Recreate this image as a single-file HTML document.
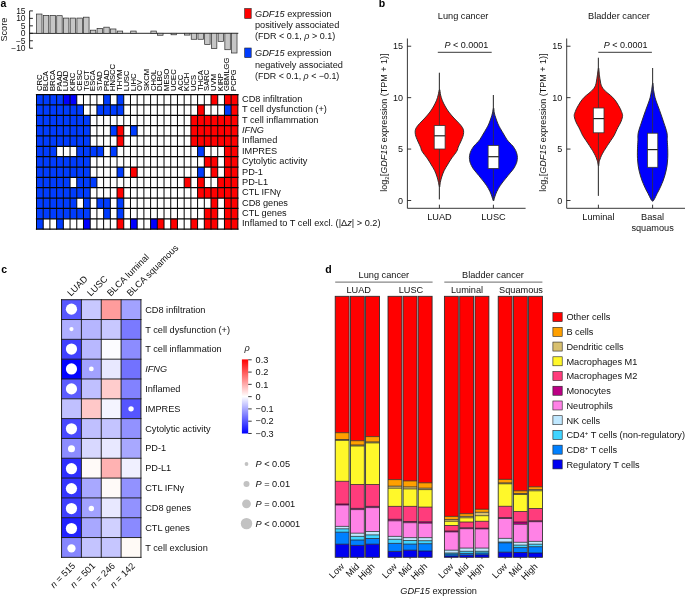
<!DOCTYPE html>
<html lang="en"><head><meta charset="utf-8"><title>GDF15 expression and immune infiltration</title>
<style>
html,body{margin:0;padding:0;background:#fff;}
body{width:685px;height:596px;overflow:hidden;font-family:"Liberation Sans", sans-serif;}
svg{display:block;font-family:"Liberation Sans", sans-serif;will-change:transform;}
</style></head>
<body>
<svg width="685" height="596" viewBox="0 0 685 596">
<rect width="685" height="596" fill="#ffffff"/>
<g id="panel-a">
<text x="0.60" y="7.20" font-size="10.5" font-weight="bold" fill="#000" >a</text>
<text x="7.00" y="29.60" font-size="9.2" text-anchor="middle" transform="rotate(-90 7.00 29.60)" fill="#111" >Score</text>
<path d="M29.6 10.90V48.23" stroke="#111" stroke-width="0.9" fill="none"/>
<path d="M29.6 10.90h3.3" stroke="#111" stroke-width="0.9"/>
<text x="25.60" y="13.90" font-size="8.5" text-anchor="end" fill="#111" >15</text>
<path d="M29.6 18.37h3.3" stroke="#111" stroke-width="0.9"/>
<text x="25.60" y="21.37" font-size="8.5" text-anchor="end" fill="#111" >10</text>
<path d="M29.6 25.83h3.3" stroke="#111" stroke-width="0.9"/>
<text x="25.60" y="28.83" font-size="8.5" text-anchor="end" fill="#111" >5</text>
<path d="M29.6 33.30h3.3" stroke="#111" stroke-width="0.9"/>
<text x="25.60" y="36.30" font-size="8.5" text-anchor="end" fill="#111" >0</text>
<path d="M29.6 40.77h3.3" stroke="#111" stroke-width="0.9"/>
<text x="25.60" y="43.77" font-size="8.5" text-anchor="end" fill="#111" >−5</text>
<path d="M29.6 48.23h3.3" stroke="#111" stroke-width="0.9"/>
<text x="25.60" y="51.23" font-size="8.5" text-anchor="end" fill="#111" >−10</text>
<path d="M29.6 33.3H238.3" stroke="#111" stroke-width="0.9"/>
<rect x="36.55" y="14.04" width="5.45" height="19.26" fill="#c6c6c6" stroke="#2a2a2a" stroke-width="0.7"/>
<rect x="43.28" y="15.38" width="5.45" height="17.92" fill="#c6c6c6" stroke="#2a2a2a" stroke-width="0.7"/>
<rect x="50.00" y="15.38" width="5.45" height="17.92" fill="#c6c6c6" stroke="#2a2a2a" stroke-width="0.7"/>
<rect x="56.73" y="15.68" width="5.45" height="17.62" fill="#c6c6c6" stroke="#2a2a2a" stroke-width="0.7"/>
<rect x="63.45" y="18.07" width="5.45" height="15.23" fill="#c6c6c6" stroke="#2a2a2a" stroke-width="0.7"/>
<rect x="70.17" y="18.07" width="5.45" height="15.23" fill="#c6c6c6" stroke="#2a2a2a" stroke-width="0.7"/>
<rect x="76.90" y="18.07" width="5.45" height="15.23" fill="#c6c6c6" stroke="#2a2a2a" stroke-width="0.7"/>
<rect x="83.62" y="17.18" width="5.45" height="16.12" fill="#c6c6c6" stroke="#2a2a2a" stroke-width="0.7"/>
<rect x="90.35" y="30.16" width="5.45" height="3.14" fill="#c6c6c6" stroke="#2a2a2a" stroke-width="0.7"/>
<rect x="97.07" y="28.37" width="5.45" height="4.93" fill="#c6c6c6" stroke="#2a2a2a" stroke-width="0.7"/>
<rect x="103.80" y="27.18" width="5.45" height="6.12" fill="#c6c6c6" stroke="#2a2a2a" stroke-width="0.7"/>
<rect x="110.52" y="28.97" width="5.45" height="4.33" fill="#c6c6c6" stroke="#2a2a2a" stroke-width="0.7"/>
<rect x="117.25" y="31.06" width="5.45" height="2.24" fill="#c6c6c6" stroke="#2a2a2a" stroke-width="0.7"/>
<rect x="130.70" y="31.06" width="5.45" height="2.24" fill="#c6c6c6" stroke="#2a2a2a" stroke-width="0.7"/>
<rect x="150.87" y="31.06" width="5.45" height="2.24" fill="#c6c6c6" stroke="#2a2a2a" stroke-width="0.7"/>
<rect x="157.60" y="33.30" width="5.45" height="1.94" fill="#c6c6c6" stroke="#2a2a2a" stroke-width="0.7"/>
<rect x="171.05" y="33.30" width="5.45" height="1.49" fill="#c6c6c6" stroke="#2a2a2a" stroke-width="0.7"/>
<rect x="184.50" y="33.30" width="5.45" height="1.79" fill="#c6c6c6" stroke="#2a2a2a" stroke-width="0.7"/>
<rect x="191.22" y="33.30" width="5.45" height="5.97" fill="#c6c6c6" stroke="#2a2a2a" stroke-width="0.7"/>
<rect x="197.95" y="33.30" width="5.45" height="5.97" fill="#c6c6c6" stroke="#2a2a2a" stroke-width="0.7"/>
<rect x="204.67" y="33.30" width="5.45" height="11.05" fill="#c6c6c6" stroke="#2a2a2a" stroke-width="0.7"/>
<rect x="211.40" y="33.30" width="5.45" height="15.23" fill="#c6c6c6" stroke="#2a2a2a" stroke-width="0.7"/>
<rect x="218.12" y="33.30" width="5.45" height="8.06" fill="#c6c6c6" stroke="#2a2a2a" stroke-width="0.7"/>
<rect x="224.85" y="33.30" width="5.45" height="16.42" fill="#c6c6c6" stroke="#2a2a2a" stroke-width="0.7"/>
<rect x="231.57" y="33.30" width="5.45" height="19.71" fill="#c6c6c6" stroke="#2a2a2a" stroke-width="0.7"/>
<text x="41.56" y="90.90" font-size="7.6" transform="rotate(-90 41.56 90.90)" fill="#000" stroke="#000" stroke-width="0.06">CRC</text>
<text x="48.27" y="90.90" font-size="7.6" transform="rotate(-90 48.27 90.90)" fill="#000" stroke="#000" stroke-width="0.06">BLCA</text>
<text x="54.98" y="90.90" font-size="7.6" transform="rotate(-90 54.98 90.90)" fill="#000" stroke="#000" stroke-width="0.06">BRCA</text>
<text x="61.69" y="90.90" font-size="7.6" transform="rotate(-90 61.69 90.90)" fill="#000" stroke="#000" stroke-width="0.06">PAAD</text>
<text x="68.40" y="90.90" font-size="7.6" transform="rotate(-90 68.40 90.90)" fill="#000" stroke="#000" stroke-width="0.06">LUAD</text>
<text x="75.12" y="90.90" font-size="7.6" transform="rotate(-90 75.12 90.90)" fill="#000" stroke="#000" stroke-width="0.06">KIRC</text>
<text x="81.83" y="90.90" font-size="7.6" transform="rotate(-90 81.83 90.90)" fill="#000" stroke="#000" stroke-width="0.06">CESC</text>
<text x="88.54" y="90.90" font-size="7.6" transform="rotate(-90 88.54 90.90)" fill="#000" stroke="#000" stroke-width="0.06">TGCT</text>
<text x="95.25" y="90.90" font-size="7.6" transform="rotate(-90 95.25 90.90)" fill="#000" stroke="#000" stroke-width="0.06">ESCA</text>
<text x="101.96" y="90.90" font-size="7.6" transform="rotate(-90 101.96 90.90)" fill="#000" stroke="#000" stroke-width="0.06">STAD</text>
<text x="108.68" y="90.90" font-size="7.6" transform="rotate(-90 108.68 90.90)" fill="#000" stroke="#000" stroke-width="0.06">PRAD</text>
<text x="115.39" y="90.90" font-size="7.6" transform="rotate(-90 115.39 90.90)" fill="#000" stroke="#000" stroke-width="0.06">HNSCC</text>
<text x="122.10" y="90.90" font-size="7.6" transform="rotate(-90 122.10 90.90)" fill="#000" stroke="#000" stroke-width="0.06">THYM</text>
<text x="128.81" y="90.90" font-size="7.6" transform="rotate(-90 128.81 90.90)" fill="#000" stroke="#000" stroke-width="0.06">LUSC</text>
<text x="135.52" y="90.90" font-size="7.6" transform="rotate(-90 135.52 90.90)" fill="#000" stroke="#000" stroke-width="0.06">LIHC</text>
<text x="142.24" y="90.90" font-size="7.6" transform="rotate(-90 142.24 90.90)" fill="#000" stroke="#000" stroke-width="0.06">OV</text>
<text x="148.95" y="90.90" font-size="7.6" transform="rotate(-90 148.95 90.90)" fill="#000" stroke="#000" stroke-width="0.06">SKCM</text>
<text x="155.66" y="90.90" font-size="7.6" transform="rotate(-90 155.66 90.90)" fill="#000" stroke="#000" stroke-width="0.06">CHOL</text>
<text x="162.37" y="90.90" font-size="7.6" transform="rotate(-90 162.37 90.90)" fill="#000" stroke="#000" stroke-width="0.06">DLBC</text>
<text x="169.08" y="90.90" font-size="7.6" transform="rotate(-90 169.08 90.90)" fill="#000" stroke="#000" stroke-width="0.06">MESO</text>
<text x="175.80" y="90.90" font-size="7.6" transform="rotate(-90 175.80 90.90)" fill="#000" stroke="#000" stroke-width="0.06">UCEC</text>
<text x="182.51" y="90.90" font-size="7.6" transform="rotate(-90 182.51 90.90)" fill="#000" stroke="#000" stroke-width="0.06">ACC</text>
<text x="189.22" y="90.90" font-size="7.6" transform="rotate(-90 189.22 90.90)" fill="#000" stroke="#000" stroke-width="0.06">KICH</text>
<text x="195.93" y="90.90" font-size="7.6" transform="rotate(-90 195.93 90.90)" fill="#000" stroke="#000" stroke-width="0.06">UCS</text>
<text x="202.64" y="90.90" font-size="7.6" transform="rotate(-90 202.64 90.90)" fill="#000" stroke="#000" stroke-width="0.06">THCA</text>
<text x="209.36" y="90.90" font-size="7.6" transform="rotate(-90 209.36 90.90)" fill="#000" stroke="#000" stroke-width="0.06">SARC</text>
<text x="216.07" y="90.90" font-size="7.6" transform="rotate(-90 216.07 90.90)" fill="#000" stroke="#000" stroke-width="0.06">UVM</text>
<text x="222.78" y="90.90" font-size="7.6" transform="rotate(-90 222.78 90.90)" fill="#000" stroke="#000" stroke-width="0.06">KIRP</text>
<text x="229.49" y="90.90" font-size="7.6" transform="rotate(-90 229.49 90.90)" fill="#000" stroke="#000" stroke-width="0.06">GBMLGG</text>
<text x="236.20" y="90.90" font-size="7.6" transform="rotate(-90 236.20 90.90)" fill="#000" stroke="#000" stroke-width="0.06">PCPG</text>
<rect x="36.5" y="94.55" width="201.36" height="134.58" fill="#fff"/>
<rect x="36.50" y="94.55" width="6.71" height="10.35" fill="#003cff"/>
<rect x="43.21" y="94.55" width="6.71" height="10.35" fill="#003cff"/>
<rect x="49.92" y="94.55" width="6.71" height="10.35" fill="#003cff"/>
<rect x="56.64" y="94.55" width="6.71" height="10.35" fill="#003cff"/>
<rect x="103.62" y="94.55" width="6.71" height="10.35" fill="#003cff"/>
<rect x="117.04" y="94.55" width="6.71" height="10.35" fill="#003cff"/>
<rect x="63.35" y="94.55" width="6.71" height="10.35" fill="#0000ff"/>
<rect x="70.06" y="94.55" width="6.71" height="10.35" fill="#0000ff"/>
<rect x="211.01" y="94.55" width="6.71" height="10.35" fill="#ff0000"/>
<rect x="224.44" y="94.55" width="6.71" height="10.35" fill="#ff0000"/>
<rect x="231.15" y="94.55" width="6.71" height="10.35" fill="#ff0000"/>
<text x="242.00" y="102.05" font-size="9.2" fill="#111" >CD8 infiltration</text>
<rect x="36.50" y="104.90" width="6.71" height="10.35" fill="#003cff"/>
<rect x="43.21" y="104.90" width="6.71" height="10.35" fill="#003cff"/>
<rect x="49.92" y="104.90" width="6.71" height="10.35" fill="#003cff"/>
<rect x="56.64" y="104.90" width="6.71" height="10.35" fill="#003cff"/>
<rect x="63.35" y="104.90" width="6.71" height="10.35" fill="#003cff"/>
<rect x="70.06" y="104.90" width="6.71" height="10.35" fill="#003cff"/>
<rect x="76.77" y="104.90" width="6.71" height="10.35" fill="#003cff"/>
<rect x="96.91" y="104.90" width="6.71" height="10.35" fill="#003cff"/>
<rect x="103.62" y="104.90" width="6.71" height="10.35" fill="#003cff"/>
<rect x="110.33" y="104.90" width="6.71" height="10.35" fill="#003cff"/>
<rect x="117.04" y="104.90" width="6.71" height="10.35" fill="#003cff"/>
<rect x="224.44" y="104.90" width="6.71" height="10.35" fill="#003cff"/>
<rect x="197.59" y="104.90" width="6.71" height="10.35" fill="#ff0000"/>
<rect x="231.15" y="104.90" width="6.71" height="10.35" fill="#ff0000"/>
<text x="242.00" y="112.40" font-size="9.2" fill="#111" >T cell dysfunction (+)</text>
<rect x="36.50" y="115.25" width="6.71" height="10.35" fill="#003cff"/>
<rect x="43.21" y="115.25" width="6.71" height="10.35" fill="#003cff"/>
<rect x="49.92" y="115.25" width="6.71" height="10.35" fill="#003cff"/>
<rect x="56.64" y="115.25" width="6.71" height="10.35" fill="#003cff"/>
<rect x="63.35" y="115.25" width="6.71" height="10.35" fill="#003cff"/>
<rect x="70.06" y="115.25" width="6.71" height="10.35" fill="#003cff"/>
<rect x="76.77" y="115.25" width="6.71" height="10.35" fill="#003cff"/>
<rect x="83.48" y="115.25" width="6.71" height="10.35" fill="#003cff"/>
<rect x="190.88" y="115.25" width="6.71" height="10.35" fill="#ff0000"/>
<rect x="197.59" y="115.25" width="6.71" height="10.35" fill="#ff0000"/>
<rect x="204.30" y="115.25" width="6.71" height="10.35" fill="#ff0000"/>
<rect x="211.01" y="115.25" width="6.71" height="10.35" fill="#ff0000"/>
<rect x="217.72" y="115.25" width="6.71" height="10.35" fill="#ff0000"/>
<rect x="224.44" y="115.25" width="6.71" height="10.35" fill="#ff0000"/>
<rect x="231.15" y="115.25" width="6.71" height="10.35" fill="#ff0000"/>
<text x="242.00" y="122.75" font-size="9.2" fill="#111" >T cell inflammation</text>
<rect x="36.50" y="125.61" width="6.71" height="10.35" fill="#003cff"/>
<rect x="43.21" y="125.61" width="6.71" height="10.35" fill="#003cff"/>
<rect x="49.92" y="125.61" width="6.71" height="10.35" fill="#003cff"/>
<rect x="56.64" y="125.61" width="6.71" height="10.35" fill="#003cff"/>
<rect x="63.35" y="125.61" width="6.71" height="10.35" fill="#003cff"/>
<rect x="70.06" y="125.61" width="6.71" height="10.35" fill="#003cff"/>
<rect x="76.77" y="125.61" width="6.71" height="10.35" fill="#003cff"/>
<rect x="83.48" y="125.61" width="6.71" height="10.35" fill="#003cff"/>
<rect x="110.33" y="125.61" width="6.71" height="10.35" fill="#003cff"/>
<rect x="130.47" y="125.61" width="6.71" height="10.35" fill="#003cff"/>
<rect x="117.04" y="125.61" width="6.71" height="10.35" fill="#ff0000"/>
<rect x="190.88" y="125.61" width="6.71" height="10.35" fill="#ff0000"/>
<rect x="197.59" y="125.61" width="6.71" height="10.35" fill="#ff0000"/>
<rect x="204.30" y="125.61" width="6.71" height="10.35" fill="#ff0000"/>
<rect x="211.01" y="125.61" width="6.71" height="10.35" fill="#ff0000"/>
<rect x="217.72" y="125.61" width="6.71" height="10.35" fill="#ff0000"/>
<rect x="224.44" y="125.61" width="6.71" height="10.35" fill="#ff0000"/>
<rect x="231.15" y="125.61" width="6.71" height="10.35" fill="#ff0000"/>
<text x="242.00" y="133.11" font-size="9.2" font-style="italic" fill="#111" >IFNG</text>
<rect x="36.50" y="135.96" width="6.71" height="10.35" fill="#003cff"/>
<rect x="43.21" y="135.96" width="6.71" height="10.35" fill="#003cff"/>
<rect x="49.92" y="135.96" width="6.71" height="10.35" fill="#003cff"/>
<rect x="56.64" y="135.96" width="6.71" height="10.35" fill="#003cff"/>
<rect x="63.35" y="135.96" width="6.71" height="10.35" fill="#003cff"/>
<rect x="70.06" y="135.96" width="6.71" height="10.35" fill="#003cff"/>
<rect x="76.77" y="135.96" width="6.71" height="10.35" fill="#003cff"/>
<rect x="83.48" y="135.96" width="6.71" height="10.35" fill="#003cff"/>
<rect x="117.04" y="135.96" width="6.71" height="10.35" fill="#ff0000"/>
<rect x="190.88" y="135.96" width="6.71" height="10.35" fill="#ff0000"/>
<rect x="197.59" y="135.96" width="6.71" height="10.35" fill="#ff0000"/>
<rect x="204.30" y="135.96" width="6.71" height="10.35" fill="#ff0000"/>
<rect x="211.01" y="135.96" width="6.71" height="10.35" fill="#ff0000"/>
<rect x="217.72" y="135.96" width="6.71" height="10.35" fill="#ff0000"/>
<rect x="224.44" y="135.96" width="6.71" height="10.35" fill="#ff0000"/>
<rect x="231.15" y="135.96" width="6.71" height="10.35" fill="#ff0000"/>
<text x="242.00" y="143.46" font-size="9.2" fill="#111" >Inflamed</text>
<rect x="36.50" y="146.31" width="6.71" height="10.35" fill="#003cff"/>
<rect x="43.21" y="146.31" width="6.71" height="10.35" fill="#003cff"/>
<rect x="49.92" y="146.31" width="6.71" height="10.35" fill="#003cff"/>
<rect x="76.77" y="146.31" width="6.71" height="10.35" fill="#003cff"/>
<rect x="83.48" y="146.31" width="6.71" height="10.35" fill="#003cff"/>
<rect x="90.20" y="146.31" width="6.71" height="10.35" fill="#003cff"/>
<rect x="96.91" y="146.31" width="6.71" height="10.35" fill="#003cff"/>
<rect x="110.33" y="146.31" width="6.71" height="10.35" fill="#003cff"/>
<rect x="197.59" y="146.31" width="6.71" height="10.35" fill="#003cff"/>
<rect x="224.44" y="146.31" width="6.71" height="10.35" fill="#ff0000"/>
<rect x="231.15" y="146.31" width="6.71" height="10.35" fill="#ff0000"/>
<text x="242.00" y="153.81" font-size="9.2" fill="#111" >IMPRES</text>
<rect x="36.50" y="156.66" width="6.71" height="10.35" fill="#003cff"/>
<rect x="43.21" y="156.66" width="6.71" height="10.35" fill="#003cff"/>
<rect x="49.92" y="156.66" width="6.71" height="10.35" fill="#003cff"/>
<rect x="56.64" y="156.66" width="6.71" height="10.35" fill="#003cff"/>
<rect x="63.35" y="156.66" width="6.71" height="10.35" fill="#003cff"/>
<rect x="70.06" y="156.66" width="6.71" height="10.35" fill="#003cff"/>
<rect x="76.77" y="156.66" width="6.71" height="10.35" fill="#003cff"/>
<rect x="83.48" y="156.66" width="6.71" height="10.35" fill="#003cff"/>
<rect x="204.30" y="156.66" width="6.71" height="10.35" fill="#ff0000"/>
<rect x="211.01" y="156.66" width="6.71" height="10.35" fill="#ff0000"/>
<rect x="224.44" y="156.66" width="6.71" height="10.35" fill="#ff0000"/>
<rect x="231.15" y="156.66" width="6.71" height="10.35" fill="#ff0000"/>
<text x="242.00" y="164.16" font-size="9.2" fill="#111" >Cytolytic activity</text>
<rect x="36.50" y="167.01" width="6.71" height="10.35" fill="#003cff"/>
<rect x="43.21" y="167.01" width="6.71" height="10.35" fill="#003cff"/>
<rect x="49.92" y="167.01" width="6.71" height="10.35" fill="#003cff"/>
<rect x="56.64" y="167.01" width="6.71" height="10.35" fill="#003cff"/>
<rect x="63.35" y="167.01" width="6.71" height="10.35" fill="#003cff"/>
<rect x="70.06" y="167.01" width="6.71" height="10.35" fill="#003cff"/>
<rect x="76.77" y="167.01" width="6.71" height="10.35" fill="#003cff"/>
<rect x="83.48" y="167.01" width="6.71" height="10.35" fill="#003cff"/>
<rect x="117.04" y="167.01" width="6.71" height="10.35" fill="#003cff"/>
<rect x="197.59" y="167.01" width="6.71" height="10.35" fill="#003cff"/>
<rect x="130.47" y="167.01" width="6.71" height="10.35" fill="#ff0000"/>
<rect x="211.01" y="167.01" width="6.71" height="10.35" fill="#ff0000"/>
<rect x="224.44" y="167.01" width="6.71" height="10.35" fill="#ff0000"/>
<rect x="231.15" y="167.01" width="6.71" height="10.35" fill="#ff0000"/>
<text x="242.00" y="174.51" font-size="9.2" fill="#111" >PD-1</text>
<rect x="36.50" y="177.37" width="6.71" height="10.35" fill="#003cff"/>
<rect x="43.21" y="177.37" width="6.71" height="10.35" fill="#003cff"/>
<rect x="49.92" y="177.37" width="6.71" height="10.35" fill="#003cff"/>
<rect x="56.64" y="177.37" width="6.71" height="10.35" fill="#003cff"/>
<rect x="63.35" y="177.37" width="6.71" height="10.35" fill="#003cff"/>
<rect x="76.77" y="177.37" width="6.71" height="10.35" fill="#003cff"/>
<rect x="83.48" y="177.37" width="6.71" height="10.35" fill="#003cff"/>
<rect x="90.20" y="177.37" width="6.71" height="10.35" fill="#003cff"/>
<rect x="184.16" y="177.37" width="6.71" height="10.35" fill="#ff0000"/>
<rect x="197.59" y="177.37" width="6.71" height="10.35" fill="#ff0000"/>
<rect x="217.72" y="177.37" width="6.71" height="10.35" fill="#ff0000"/>
<rect x="224.44" y="177.37" width="6.71" height="10.35" fill="#ff0000"/>
<rect x="231.15" y="177.37" width="6.71" height="10.35" fill="#ff0000"/>
<text x="242.00" y="184.87" font-size="9.2" fill="#111" >PD-L1</text>
<rect x="36.50" y="187.72" width="6.71" height="10.35" fill="#003cff"/>
<rect x="43.21" y="187.72" width="6.71" height="10.35" fill="#003cff"/>
<rect x="49.92" y="187.72" width="6.71" height="10.35" fill="#003cff"/>
<rect x="56.64" y="187.72" width="6.71" height="10.35" fill="#003cff"/>
<rect x="63.35" y="187.72" width="6.71" height="10.35" fill="#003cff"/>
<rect x="70.06" y="187.72" width="6.71" height="10.35" fill="#003cff"/>
<rect x="76.77" y="187.72" width="6.71" height="10.35" fill="#003cff"/>
<rect x="83.48" y="187.72" width="6.71" height="10.35" fill="#003cff"/>
<rect x="117.04" y="187.72" width="6.71" height="10.35" fill="#ff0000"/>
<rect x="197.59" y="187.72" width="6.71" height="10.35" fill="#ff0000"/>
<rect x="204.30" y="187.72" width="6.71" height="10.35" fill="#ff0000"/>
<rect x="211.01" y="187.72" width="6.71" height="10.35" fill="#ff0000"/>
<rect x="217.72" y="187.72" width="6.71" height="10.35" fill="#ff0000"/>
<rect x="224.44" y="187.72" width="6.71" height="10.35" fill="#ff0000"/>
<rect x="231.15" y="187.72" width="6.71" height="10.35" fill="#ff0000"/>
<text x="242.00" y="195.22" font-size="9.2" fill="#111" >CTL IFNγ</text>
<rect x="36.50" y="198.07" width="6.71" height="10.35" fill="#003cff"/>
<rect x="43.21" y="198.07" width="6.71" height="10.35" fill="#003cff"/>
<rect x="49.92" y="198.07" width="6.71" height="10.35" fill="#003cff"/>
<rect x="56.64" y="198.07" width="6.71" height="10.35" fill="#003cff"/>
<rect x="63.35" y="198.07" width="6.71" height="10.35" fill="#003cff"/>
<rect x="70.06" y="198.07" width="6.71" height="10.35" fill="#003cff"/>
<rect x="83.48" y="198.07" width="6.71" height="10.35" fill="#003cff"/>
<rect x="96.91" y="198.07" width="6.71" height="10.35" fill="#003cff"/>
<rect x="103.62" y="198.07" width="6.71" height="10.35" fill="#003cff"/>
<rect x="117.04" y="198.07" width="6.71" height="10.35" fill="#003cff"/>
<rect x="211.01" y="198.07" width="6.71" height="10.35" fill="#ff0000"/>
<rect x="224.44" y="198.07" width="6.71" height="10.35" fill="#ff0000"/>
<rect x="231.15" y="198.07" width="6.71" height="10.35" fill="#ff0000"/>
<text x="242.00" y="205.57" font-size="9.2" fill="#111" >CD8 genes</text>
<rect x="36.50" y="208.42" width="6.71" height="10.35" fill="#003cff"/>
<rect x="43.21" y="208.42" width="6.71" height="10.35" fill="#003cff"/>
<rect x="49.92" y="208.42" width="6.71" height="10.35" fill="#003cff"/>
<rect x="56.64" y="208.42" width="6.71" height="10.35" fill="#003cff"/>
<rect x="63.35" y="208.42" width="6.71" height="10.35" fill="#003cff"/>
<rect x="70.06" y="208.42" width="6.71" height="10.35" fill="#003cff"/>
<rect x="76.77" y="208.42" width="6.71" height="10.35" fill="#003cff"/>
<rect x="83.48" y="208.42" width="6.71" height="10.35" fill="#003cff"/>
<rect x="103.62" y="208.42" width="6.71" height="10.35" fill="#003cff"/>
<rect x="117.04" y="208.42" width="6.71" height="10.35" fill="#003cff"/>
<rect x="204.30" y="208.42" width="6.71" height="10.35" fill="#ff0000"/>
<rect x="211.01" y="208.42" width="6.71" height="10.35" fill="#ff0000"/>
<rect x="224.44" y="208.42" width="6.71" height="10.35" fill="#ff0000"/>
<rect x="231.15" y="208.42" width="6.71" height="10.35" fill="#ff0000"/>
<text x="242.00" y="215.92" font-size="9.2" fill="#111" >CTL genes</text>
<rect x="36.50" y="218.77" width="6.71" height="10.35" fill="#003cff"/>
<rect x="56.64" y="218.77" width="6.71" height="10.35" fill="#003cff"/>
<rect x="83.48" y="218.77" width="6.71" height="10.35" fill="#0000ff"/>
<rect x="117.04" y="218.77" width="6.71" height="10.35" fill="#ff0000"/>
<rect x="130.47" y="218.77" width="6.71" height="10.35" fill="#0000ff"/>
<rect x="150.60" y="218.77" width="6.71" height="10.35" fill="#0000ff"/>
<rect x="157.32" y="218.77" width="6.71" height="10.35" fill="#ff0000"/>
<rect x="170.74" y="218.77" width="6.71" height="10.35" fill="#ff0000"/>
<rect x="190.88" y="218.77" width="6.71" height="10.35" fill="#ff0000"/>
<rect x="204.30" y="218.77" width="6.71" height="10.35" fill="#ff0000"/>
<rect x="211.01" y="218.77" width="6.71" height="10.35" fill="#ff0000"/>
<rect x="224.44" y="218.77" width="6.71" height="10.35" fill="#ff0000"/>
<rect x="231.15" y="218.77" width="6.71" height="10.35" fill="#ff0000"/>
<text x="242.00" y="226.27" font-size="9.2" fill="#111" >Inflamed to T cell excl. (|Δ<tspan font-style="italic">z</tspan>| &gt; 0.2)</text>
<path d="M36.50 94.55v134.58M43.21 94.55v134.58M49.92 94.55v134.58M56.64 94.55v134.58M63.35 94.55v134.58M70.06 94.55v134.58M76.77 94.55v134.58M83.48 94.55v134.58M90.20 94.55v134.58M96.91 94.55v134.58M103.62 94.55v134.58M110.33 94.55v134.58M117.04 94.55v134.58M123.76 94.55v134.58M130.47 94.55v134.58M137.18 94.55v134.58M143.89 94.55v134.58M150.60 94.55v134.58M157.32 94.55v134.58M164.03 94.55v134.58M170.74 94.55v134.58M177.45 94.55v134.58M184.16 94.55v134.58M190.88 94.55v134.58M197.59 94.55v134.58M204.30 94.55v134.58M211.01 94.55v134.58M217.72 94.55v134.58M224.44 94.55v134.58M231.15 94.55v134.58M237.86 94.55v134.58" stroke="#050505" stroke-width="1.0" fill="none" stroke-linecap="square"/>
<path d="M36.5 94.55h201.36M36.5 104.90h201.36M36.5 115.25h201.36M36.5 125.61h201.36M36.5 135.96h201.36M36.5 146.31h201.36M36.5 156.66h201.36M36.5 167.01h201.36M36.5 177.37h201.36M36.5 187.72h201.36M36.5 198.07h201.36M36.5 208.42h201.36M36.5 218.77h201.36M36.5 229.13h201.36" stroke="#050505" stroke-width="1.25" fill="none" stroke-linecap="square"/>
<rect x="244.7" y="8.5" width="6.5" height="10" fill="#ff0000" stroke="#222" stroke-width="0.6"/>
<rect x="244.7" y="48" width="6.5" height="9.6" fill="#003cff" stroke="#222" stroke-width="0.6"/>
<text x="255.00" y="16.70" font-size="9.2" fill="#111" ><tspan font-style="italic">GDF15</tspan> expression</text>
<text x="255.00" y="27.80" font-size="9.2" fill="#111" >positively associated</text>
<text x="255.00" y="38.90" font-size="9.0" fill="#111" >(FDR &lt; 0.1, <tspan font-style="italic">ρ</tspan> &gt; 0.1)</text>
<text x="255.00" y="56.40" font-size="9.2" fill="#111" ><tspan font-style="italic">GDF15</tspan> expression</text>
<text x="255.00" y="67.50" font-size="9.2" fill="#111" >negatively associated</text>
<text x="255.00" y="78.60" font-size="8.9" fill="#111" >(FDR &lt; 0.1, <tspan font-style="italic">ρ</tspan> &lt; −0.1)</text>
</g>
<g id="panel-b">
<text x="378.80" y="7.20" font-size="10.5" font-weight="bold" fill="#000" >b</text>
<path d="M407.4 38.5V208.3H525.6" stroke="#222" stroke-width="0.9" fill="none"/>
<path d="M407.4 200.50h3.8" stroke="#222" stroke-width="0.9"/>
<text x="403.00" y="203.50" font-size="9.0" text-anchor="end" fill="#111" >0</text>
<path d="M407.4 149.07h3.8" stroke="#222" stroke-width="0.9"/>
<text x="403.00" y="152.07" font-size="9.0" text-anchor="end" fill="#111" >5</text>
<path d="M407.4 97.65h3.8" stroke="#222" stroke-width="0.9"/>
<text x="403.00" y="100.65" font-size="9.0" text-anchor="end" fill="#111" >10</text>
<path d="M407.4 46.22h3.8" stroke="#222" stroke-width="0.9"/>
<text x="403.00" y="49.22" font-size="9.0" text-anchor="end" fill="#111" >15</text>
<text x="387.40" y="122.60" font-size="9.0" text-anchor="middle" transform="rotate(-90 387.40 122.60)" fill="#111" >log<tspan font-size="6" dy="1.6">2</tspan><tspan dy="-1.6">[</tspan><tspan font-style="italic">GDF15</tspan> expression (TPM + 1)]</text>
<text x="463.10" y="19.20" font-size="9.2" text-anchor="middle" fill="#111" >Lung cancer</text>
<text x="466.40" y="47.90" font-size="9.0" text-anchor="middle" fill="#111" ><tspan font-style="italic">P</tspan> &lt; 0.0001</text>
<path d="M437.8 52.3H491.7" stroke="#222" stroke-width="0.9"/>
<path d="M439.4 72.8V199.3" stroke="#333" stroke-width="0.8"/>
<path d="M439.60 89.50C440.00 89.50 440.17 93.22 440.60 95.00C441.03 96.78 441.47 98.37 442.20 100.20C442.93 102.03 443.90 104.03 445.00 106.00C446.10 107.97 447.32 110.00 448.80 112.00C450.28 114.00 452.13 116.05 453.90 118.00C455.67 119.95 457.98 122.12 459.40 123.70C460.82 125.28 461.70 126.32 462.40 127.50C463.10 128.68 463.43 129.63 463.60 130.80C463.77 131.97 463.60 133.33 463.40 134.50C463.20 135.67 462.87 136.55 462.40 137.80C461.93 139.05 461.30 140.43 460.60 142.00C459.90 143.57 458.73 145.87 458.20 147.20C457.67 148.53 457.83 149.03 457.40 150.00C456.97 150.97 456.65 151.50 455.60 153.00C454.55 154.50 452.47 157.00 451.10 159.00C449.73 161.00 448.57 163.05 447.40 165.00C446.23 166.95 445.05 168.70 444.10 170.70C443.15 172.70 442.33 175.03 441.70 177.00C441.07 178.97 440.65 180.83 440.30 182.50C439.95 184.17 439.90 187.00 439.60 187.00C439.30 187.00 438.92 184.17 438.50 182.50C438.08 180.83 437.73 178.97 437.10 177.00C436.47 175.03 435.65 172.70 434.70 170.70C433.75 168.70 432.57 166.95 431.40 165.00C430.23 163.05 429.07 161.00 427.70 159.00C426.33 157.00 424.25 154.50 423.20 153.00C422.15 151.50 421.83 150.97 421.40 150.00C420.97 149.03 421.13 148.53 420.60 147.20C420.07 145.87 418.90 143.57 418.20 142.00C417.50 140.43 416.87 139.05 416.40 137.80C415.93 136.55 415.60 135.67 415.40 134.50C415.20 133.33 415.03 131.97 415.20 130.80C415.37 129.63 415.70 128.68 416.40 127.50C417.10 126.32 417.98 125.28 419.40 123.70C420.82 122.12 423.13 119.95 424.90 118.00C426.67 116.05 428.52 114.00 430.00 112.00C431.48 110.00 432.70 107.97 433.80 106.00C434.90 104.03 435.87 102.03 436.60 100.20C437.33 98.37 437.70 96.78 438.20 95.00C438.70 93.22 439.20 89.50 439.60 89.50Z" fill="#ff0000" stroke="#2a2a2a" stroke-width="0.95" stroke-linejoin="round"/>
<path d="M439.4 72.8V199.3" stroke="#333" stroke-width="0.8"/>
<rect x="434.2" y="125.6" width="10.90" height="23.40" fill="#fff" stroke="#333" stroke-width="0.8"/>
<path d="M434.2 135.8H445.1" stroke="#222" stroke-width="1.2"/>
<path d="M439.4 199.3V208" stroke="none"/>
<path d="M493.4 95.0V200.8" stroke="#333" stroke-width="0.8"/>
<path d="M493.60 108.00C493.90 108.00 493.93 111.33 494.30 113.00C494.67 114.67 495.18 116.17 495.80 118.00C496.42 119.83 497.23 122.23 498.00 124.00C498.77 125.77 499.47 126.93 500.40 128.60C501.33 130.27 502.52 132.18 503.60 134.00C504.68 135.82 505.85 138.00 506.90 139.50C507.95 141.00 508.92 141.92 509.90 143.00C510.88 144.08 511.85 144.77 512.80 146.00C513.75 147.23 514.92 149.07 515.60 150.40C516.28 151.73 516.60 152.82 516.90 154.00C517.20 155.18 517.38 156.33 517.40 157.50C517.42 158.67 517.18 160.00 517.00 161.00C516.82 162.00 516.78 162.35 516.30 163.50C515.82 164.65 515.02 166.45 514.10 167.90C513.18 169.35 511.82 170.93 510.80 172.20C509.78 173.47 508.90 174.40 508.00 175.50C507.10 176.60 506.27 177.72 505.40 178.80C504.53 179.88 503.63 180.92 502.80 182.00C501.97 183.08 501.13 184.22 500.40 185.30C499.67 186.38 499.02 187.42 498.40 188.50C497.78 189.58 497.20 190.72 496.70 191.80C496.20 192.88 495.80 193.90 495.40 195.00C495.00 196.10 494.60 197.43 494.30 198.40C494.00 199.37 493.90 200.80 493.60 200.80C493.30 200.80 492.87 199.37 492.50 198.40C492.13 197.43 491.80 196.10 491.40 195.00C491.00 193.90 490.60 192.88 490.10 191.80C489.60 190.72 489.02 189.58 488.40 188.50C487.78 187.42 487.13 186.38 486.40 185.30C485.67 184.22 484.83 183.08 484.00 182.00C483.17 180.92 482.27 179.88 481.40 178.80C480.53 177.72 479.70 176.60 478.80 175.50C477.90 174.40 477.02 173.47 476.00 172.20C474.98 170.93 473.62 169.35 472.70 167.90C471.78 166.45 470.98 164.65 470.50 163.50C470.02 162.35 469.98 162.00 469.80 161.00C469.62 160.00 469.38 158.67 469.40 157.50C469.42 156.33 469.60 155.18 469.90 154.00C470.20 152.82 470.52 151.73 471.20 150.40C471.88 149.07 473.05 147.23 474.00 146.00C474.95 144.77 475.92 144.08 476.90 143.00C477.88 141.92 478.85 141.00 479.90 139.50C480.95 138.00 482.12 135.82 483.20 134.00C484.28 132.18 485.47 130.27 486.40 128.60C487.33 126.93 488.03 125.77 488.80 124.00C489.57 122.23 490.38 119.83 491.00 118.00C491.62 116.17 492.07 114.67 492.50 113.00C492.93 111.33 493.30 108.00 493.60 108.00Z" fill="#0000ff" stroke="#2a2a2a" stroke-width="0.95" stroke-linejoin="round"/>
<path d="M493.4 95.0V200.8" stroke="#333" stroke-width="0.8"/>
<rect x="488.1" y="145.5" width="10.70" height="22.90" fill="#fff" stroke="#333" stroke-width="0.8"/>
<path d="M488.1 156.7H498.8" stroke="#222" stroke-width="1.2"/>
<path d="M439.4 208.3v-3.6" stroke="#222" stroke-width="0.9"/>
<text x="439.40" y="220.20" font-size="9.2" text-anchor="middle" fill="#111" >LUAD</text>
<path d="M493.4 208.3v-3.6" stroke="#222" stroke-width="0.9"/>
<text x="493.40" y="220.20" font-size="9.2" text-anchor="middle" fill="#111" >LUSC</text>
<path d="M566.7 38.5V208.3H685" stroke="#222" stroke-width="0.9" fill="none"/>
<path d="M566.7 200.50h3.8" stroke="#222" stroke-width="0.9"/>
<text x="562.30" y="203.50" font-size="9.0" text-anchor="end" fill="#111" >0</text>
<path d="M566.7 149.07h3.8" stroke="#222" stroke-width="0.9"/>
<text x="562.30" y="152.07" font-size="9.0" text-anchor="end" fill="#111" >5</text>
<path d="M566.7 97.65h3.8" stroke="#222" stroke-width="0.9"/>
<text x="562.30" y="100.65" font-size="9.0" text-anchor="end" fill="#111" >10</text>
<path d="M566.7 46.22h3.8" stroke="#222" stroke-width="0.9"/>
<text x="562.30" y="49.22" font-size="9.0" text-anchor="end" fill="#111" >15</text>
<text x="546.50" y="122.60" font-size="9.0" text-anchor="middle" transform="rotate(-90 546.50 122.60)" fill="#111" >log<tspan font-size="6" dy="1.6">2</tspan><tspan dy="-1.6">[</tspan><tspan font-style="italic">GDF15</tspan> expression (TPM + 1)]</text>
<text x="619.00" y="18.80" font-size="9.2" text-anchor="middle" fill="#111" >Bladder cancer</text>
<text x="625.60" y="48.10" font-size="9.0" text-anchor="middle" fill="#111" ><tspan font-style="italic">P</tspan> &lt; 0.0001</text>
<path d="M598.3 52.3H651.9" stroke="#222" stroke-width="0.9"/>
<path d="M598.4 57.8V195.8" stroke="#333" stroke-width="0.8"/>
<path d="M598.60 68.00C598.93 68.00 599.12 72.93 599.40 75.10C599.68 77.27 600.00 79.32 600.30 81.00C600.60 82.68 600.75 83.95 601.20 85.20C601.65 86.45 602.30 87.50 603.00 88.50C603.70 89.50 604.58 90.40 605.40 91.20C606.22 92.00 607.07 92.62 607.90 93.30C608.73 93.98 609.62 94.63 610.40 95.30C611.18 95.97 611.93 96.63 612.60 97.30C613.27 97.97 613.77 98.52 614.40 99.30C615.03 100.08 615.73 101.00 616.40 102.00C617.07 103.00 617.77 104.22 618.40 105.30C619.03 106.38 619.70 107.48 620.20 108.50C620.70 109.52 621.07 110.57 621.40 111.40C621.73 112.23 622.00 112.83 622.20 113.50C622.40 114.17 622.60 114.65 622.60 115.40C622.60 116.15 622.45 117.00 622.20 118.00C621.95 119.00 621.53 120.32 621.10 121.40C620.67 122.48 620.13 123.48 619.60 124.50C619.07 125.52 618.50 126.33 617.90 127.50C617.30 128.67 616.63 130.17 616.00 131.50C615.37 132.83 614.97 134.00 614.10 135.50C613.23 137.00 611.92 138.82 610.80 140.50C609.68 142.18 608.50 143.92 607.40 145.60C606.30 147.28 605.20 148.92 604.20 150.60C603.20 152.28 602.08 154.30 601.40 155.70C600.72 157.10 600.47 158.00 600.10 159.00C599.73 160.00 599.45 160.53 599.20 161.70C598.95 162.87 598.87 166.00 598.60 166.00C598.33 166.00 597.92 162.87 597.60 161.70C597.28 160.53 597.07 160.00 596.70 159.00C596.33 158.00 596.08 157.10 595.40 155.70C594.72 154.30 593.60 152.28 592.60 150.60C591.60 148.92 590.50 147.28 589.40 145.60C588.30 143.92 587.12 142.18 586.00 140.50C584.88 138.82 583.57 137.00 582.70 135.50C581.83 134.00 581.43 132.83 580.80 131.50C580.17 130.17 579.50 128.67 578.90 127.50C578.30 126.33 577.73 125.52 577.20 124.50C576.67 123.48 576.13 122.48 575.70 121.40C575.27 120.32 574.85 119.00 574.60 118.00C574.35 117.00 574.20 116.15 574.20 115.40C574.20 114.65 574.40 114.17 574.60 113.50C574.80 112.83 575.07 112.23 575.40 111.40C575.73 110.57 576.10 109.52 576.60 108.50C577.10 107.48 577.77 106.38 578.40 105.30C579.03 104.22 579.73 103.00 580.40 102.00C581.07 101.00 581.77 100.08 582.40 99.30C583.03 98.52 583.53 97.97 584.20 97.30C584.87 96.63 585.62 95.97 586.40 95.30C587.18 94.63 588.07 93.98 588.90 93.30C589.73 92.62 590.58 92.00 591.40 91.20C592.22 90.40 593.10 89.50 593.80 88.50C594.50 87.50 595.15 86.45 595.60 85.20C596.05 83.95 596.20 82.68 596.50 81.00C596.80 79.32 597.05 77.27 597.40 75.10C597.75 72.93 598.27 68.00 598.60 68.00Z" fill="#ff0000" stroke="#2a2a2a" stroke-width="0.95" stroke-linejoin="round"/>
<path d="M598.4 57.8V195.8" stroke="#333" stroke-width="0.8"/>
<rect x="593.3" y="108.0" width="10.70" height="24.80" fill="#fff" stroke="#333" stroke-width="0.8"/>
<path d="M593.3 118.6H604.0" stroke="#222" stroke-width="1.2"/>
<path d="M652.6 68.0V201.0" stroke="#333" stroke-width="0.8"/>
<path d="M652.80 83.00C653.13 83.00 653.22 87.83 653.60 90.30C653.98 92.77 654.50 95.52 655.10 97.80C655.70 100.08 656.45 101.90 657.20 104.00C657.95 106.10 658.82 108.23 659.60 110.40C660.38 112.57 661.18 114.90 661.90 117.00C662.62 119.10 663.28 121.17 663.90 123.00C664.52 124.83 665.08 126.32 665.60 128.00C666.12 129.68 666.72 131.60 667.00 133.10C667.28 134.60 667.25 135.73 667.30 137.00C667.35 138.27 667.23 138.83 667.30 140.70C667.37 142.57 667.62 145.68 667.70 148.20C667.78 150.72 667.83 153.67 667.80 155.80C667.77 157.93 667.63 159.32 667.50 161.00C667.37 162.68 667.25 164.23 667.00 165.90C666.75 167.57 666.38 169.32 666.00 171.00C665.62 172.68 665.20 174.33 664.70 176.00C664.20 177.67 663.63 179.33 663.00 181.00C662.37 182.67 661.57 184.50 660.90 186.00C660.23 187.50 659.63 188.73 659.00 190.00C658.37 191.27 657.65 192.52 657.10 193.60C656.55 194.68 656.12 195.65 655.70 196.50C655.28 197.35 654.95 198.05 654.60 198.70C654.25 199.35 653.90 199.98 653.60 200.40C653.30 200.82 653.13 201.20 652.80 201.20C652.47 201.20 651.97 200.82 651.60 200.40C651.23 199.98 650.95 199.35 650.60 198.70C650.25 198.05 649.92 197.35 649.50 196.50C649.08 195.65 648.65 194.68 648.10 193.60C647.55 192.52 646.83 191.27 646.20 190.00C645.57 188.73 644.97 187.50 644.30 186.00C643.63 184.50 642.83 182.67 642.20 181.00C641.57 179.33 641.00 177.67 640.50 176.00C640.00 174.33 639.58 172.68 639.20 171.00C638.82 169.32 638.45 167.57 638.20 165.90C637.95 164.23 637.83 162.68 637.70 161.00C637.57 159.32 637.43 157.93 637.40 155.80C637.37 153.67 637.42 150.72 637.50 148.20C637.58 145.68 637.83 142.57 637.90 140.70C637.97 138.83 637.85 138.27 637.90 137.00C637.95 135.73 637.92 134.60 638.20 133.10C638.48 131.60 639.08 129.68 639.60 128.00C640.12 126.32 640.68 124.83 641.30 123.00C641.92 121.17 642.58 119.10 643.30 117.00C644.02 114.90 644.82 112.57 645.60 110.40C646.38 108.23 647.25 106.10 648.00 104.00C648.75 101.90 649.50 100.08 650.10 97.80C650.70 95.52 651.15 92.77 651.60 90.30C652.05 87.83 652.47 83.00 652.80 83.00Z" fill="#0000ff" stroke="#2a2a2a" stroke-width="0.95" stroke-linejoin="round"/>
<path d="M652.6 68.0V201.0" stroke="#333" stroke-width="0.8"/>
<rect x="647.4" y="133.2" width="10.40" height="34.10" fill="#fff" stroke="#333" stroke-width="0.8"/>
<path d="M647.4 149.6H657.8" stroke="#222" stroke-width="1.2"/>
<path d="M598.4 208.3v-3.6" stroke="#222" stroke-width="0.9"/>
<text x="598.40" y="220.20" font-size="9.2" text-anchor="middle" fill="#111" >Luminal</text>
<path d="M652.6 208.3v-3.6" stroke="#222" stroke-width="0.9"/>
<text x="652.60" y="220.20" font-size="9.2" text-anchor="middle" fill="#111" >Basal</text>
<text x="652.60" y="231.00" font-size="9.2" text-anchor="middle" fill="#111" >squamous</text>
</g>
<g id="panel-c">
<text x="1.20" y="272.80" font-size="10.5" font-weight="bold" fill="#000" >c</text>
<rect x="61.55" y="299.70" width="19.85" height="19.82" fill="#5858ff"/>
<rect x="81.40" y="299.70" width="19.85" height="19.82" fill="#c8c8ff"/>
<rect x="101.25" y="299.70" width="19.85" height="19.82" fill="#ff9c9c"/>
<rect x="121.10" y="299.70" width="19.85" height="19.82" fill="#a2a2ff"/>
<circle cx="71.47" cy="309.15" r="5.6" fill="#fff"/>
<text x="145.20" y="312.71" font-size="9.2" fill="#111" >CD8 infiltration</text>
<rect x="61.55" y="319.52" width="19.85" height="19.82" fill="#aeaeff"/>
<rect x="81.40" y="319.52" width="19.85" height="19.82" fill="#b6b6ff"/>
<rect x="101.25" y="319.52" width="19.85" height="19.82" fill="#c8c8ff"/>
<rect x="121.10" y="319.52" width="19.85" height="19.82" fill="#7a7aff"/>
<circle cx="71.47" cy="329.09" r="2.1" fill="#fff"/>
<text x="145.20" y="332.53" font-size="9.2" fill="#111" >T cell dysfunction (+)</text>
<rect x="61.55" y="339.34" width="19.85" height="19.82" fill="#4040ff"/>
<rect x="81.40" y="339.34" width="19.85" height="19.82" fill="#b8b8ff"/>
<rect x="101.25" y="339.34" width="19.85" height="19.82" fill="#fcfcff"/>
<rect x="121.10" y="339.34" width="19.85" height="19.82" fill="#8c8cff"/>
<circle cx="71.47" cy="349.03" r="5.6" fill="#fff"/>
<text x="145.20" y="352.35" font-size="9.2" fill="#111" >T cell inflammation</text>
<rect x="61.55" y="359.16" width="19.85" height="19.82" fill="#0404ff"/>
<rect x="81.40" y="359.16" width="19.85" height="19.82" fill="#a2a2ff"/>
<rect x="101.25" y="359.16" width="19.85" height="19.82" fill="#e8e8ff"/>
<rect x="121.10" y="359.16" width="19.85" height="19.82" fill="#7272ff"/>
<circle cx="71.47" cy="368.97" r="5.6" fill="#fff"/>
<circle cx="91.33" cy="368.97" r="2.4" fill="#fff"/>
<text x="145.20" y="372.17" font-size="9.2" font-style="italic" fill="#111" >IFNG</text>
<rect x="61.55" y="378.98" width="19.85" height="19.82" fill="#5d5dff"/>
<rect x="81.40" y="378.98" width="19.85" height="19.82" fill="#c0c0ff"/>
<rect x="101.25" y="378.98" width="19.85" height="19.82" fill="#ffcccc"/>
<rect x="121.10" y="378.98" width="19.85" height="19.82" fill="#8282ff"/>
<circle cx="71.47" cy="388.91" r="5.6" fill="#fff"/>
<text x="145.20" y="391.99" font-size="9.2" fill="#111" >Inflamed</text>
<rect x="61.55" y="398.80" width="19.85" height="19.82" fill="#c0c0ff"/>
<rect x="81.40" y="398.80" width="19.85" height="19.82" fill="#ffc8c8"/>
<rect x="101.25" y="398.80" width="19.85" height="19.82" fill="#f4f4ff"/>
<rect x="121.10" y="398.80" width="19.85" height="19.82" fill="#5656ff"/>
<circle cx="131.03" cy="408.85" r="2.7" fill="#fff"/>
<text x="145.20" y="411.81" font-size="9.2" fill="#111" >IMPRES</text>
<rect x="61.55" y="418.62" width="19.85" height="19.82" fill="#4a4aff"/>
<rect x="81.40" y="418.62" width="19.85" height="19.82" fill="#c0c0ff"/>
<rect x="101.25" y="418.62" width="19.85" height="19.82" fill="#c4c4ff"/>
<rect x="121.10" y="418.62" width="19.85" height="19.82" fill="#9292ff"/>
<circle cx="71.47" cy="428.79" r="5.6" fill="#fff"/>
<text x="145.20" y="431.63" font-size="9.2" fill="#111" >Cytolytic activity</text>
<rect x="61.55" y="438.44" width="19.85" height="19.82" fill="#8c8cff"/>
<rect x="81.40" y="438.44" width="19.85" height="19.82" fill="#d8d8ff"/>
<rect x="101.25" y="438.44" width="19.85" height="19.82" fill="#e8e8ff"/>
<rect x="121.10" y="438.44" width="19.85" height="19.82" fill="#a8a8ff"/>
<circle cx="71.47" cy="448.73" r="3.5" fill="#fff"/>
<text x="145.20" y="451.45" font-size="9.2" fill="#111" >PD-1</text>
<rect x="61.55" y="458.26" width="19.85" height="19.82" fill="#2e2eff"/>
<rect x="81.40" y="458.26" width="19.85" height="19.82" fill="#fffaf8"/>
<rect x="101.25" y="458.26" width="19.85" height="19.82" fill="#ffb2b2"/>
<rect x="121.10" y="458.26" width="19.85" height="19.82" fill="#f0f0ff"/>
<circle cx="71.47" cy="468.67" r="5.6" fill="#fff"/>
<text x="145.20" y="471.27" font-size="9.2" fill="#111" >PD-L1</text>
<rect x="61.55" y="478.08" width="19.85" height="19.82" fill="#3636ff"/>
<rect x="81.40" y="478.08" width="19.85" height="19.82" fill="#a8a8ff"/>
<rect x="101.25" y="478.08" width="19.85" height="19.82" fill="#fffaf8"/>
<rect x="121.10" y="478.08" width="19.85" height="19.82" fill="#9292ff"/>
<circle cx="71.47" cy="488.61" r="5.6" fill="#fff"/>
<text x="145.20" y="491.09" font-size="9.2" fill="#111" >CTL IFNγ</text>
<rect x="61.55" y="497.90" width="19.85" height="19.82" fill="#4040ff"/>
<rect x="81.40" y="497.90" width="19.85" height="19.82" fill="#a2a2ff"/>
<rect x="101.25" y="497.90" width="19.85" height="19.82" fill="#e8e8ff"/>
<rect x="121.10" y="497.90" width="19.85" height="19.82" fill="#9292ff"/>
<circle cx="71.47" cy="508.55" r="5.6" fill="#fff"/>
<circle cx="91.33" cy="508.55" r="2.7" fill="#fff"/>
<text x="145.20" y="510.91" font-size="9.2" fill="#111" >CD8 genes</text>
<rect x="61.55" y="517.72" width="19.85" height="19.82" fill="#2222ff"/>
<rect x="81.40" y="517.72" width="19.85" height="19.82" fill="#a8a8ff"/>
<rect x="101.25" y="517.72" width="19.85" height="19.82" fill="#d0d0ff"/>
<rect x="121.10" y="517.72" width="19.85" height="19.82" fill="#8a8aff"/>
<circle cx="71.47" cy="528.49" r="5.6" fill="#fff"/>
<text x="145.20" y="530.73" font-size="9.2" fill="#111" >CTL genes</text>
<rect x="61.55" y="537.54" width="19.85" height="19.82" fill="#8686ff"/>
<rect x="81.40" y="537.54" width="19.85" height="19.82" fill="#c4c4ff"/>
<rect x="101.25" y="537.54" width="19.85" height="19.82" fill="#c6c6ff"/>
<rect x="121.10" y="537.54" width="19.85" height="19.82" fill="#fffaf6"/>
<circle cx="71.47" cy="548.43" r="4.15" fill="#fff"/>
<text x="145.20" y="550.55" font-size="9.2" fill="#111" >T cell exclusion</text>
<path d="M61.55 299.7v257.66M81.40 299.7v257.66M101.25 299.7v257.66M121.10 299.7v257.66M140.95 299.7v257.66M61.55 299.70h79.40M61.55 319.52h79.40M61.55 339.34h79.40M61.55 359.16h79.40M61.55 378.98h79.40M61.55 398.80h79.40M61.55 418.62h79.40M61.55 438.44h79.40M61.55 458.26h79.40M61.55 478.08h79.40M61.55 497.90h79.40M61.55 517.72h79.40M61.55 537.54h79.40M61.55 557.36h79.40" stroke="#111" stroke-width="0.9" fill="none" stroke-linecap="square"/>
<text x="70.97" y="296.80" font-size="9.2" transform="rotate(-45 70.97 296.80)" fill="#111" >LUAD</text>
<text x="90.83" y="296.80" font-size="9.2" transform="rotate(-45 90.83 296.80)" fill="#111" >LUSC</text>
<text x="110.67" y="296.80" font-size="9.2" transform="rotate(-45 110.67 296.80)" fill="#111" >BLCA luminal</text>
<text x="130.53" y="296.80" font-size="9.2" transform="rotate(-45 130.53 296.80)" fill="#111" >BLCA squamous</text>
<text x="75.97" y="566.50" font-size="9.2" text-anchor="end" transform="rotate(-45 75.97 566.50)" fill="#111" ><tspan font-style="italic">n</tspan> = 515</text>
<text x="95.83" y="566.50" font-size="9.2" text-anchor="end" transform="rotate(-45 95.83 566.50)" fill="#111" ><tspan font-style="italic">n</tspan> = 501</text>
<text x="115.67" y="566.50" font-size="9.2" text-anchor="end" transform="rotate(-45 115.67 566.50)" fill="#111" ><tspan font-style="italic">n</tspan> = 246</text>
<text x="135.53" y="566.50" font-size="9.2" text-anchor="end" transform="rotate(-45 135.53 566.50)" fill="#111" ><tspan font-style="italic">n</tspan> = 142</text>
<defs><linearGradient id="cb" x1="0" y1="0" x2="0" y2="1"><stop offset="0" stop-color="#ff0000"/><stop offset="0.5" stop-color="#ffffff"/><stop offset="1" stop-color="#0000ff"/></linearGradient></defs>
<rect x="241.9" y="359.4" width="6.3" height="74.1" fill="url(#cb)"/>
<text x="244.40" y="351.20" font-size="9.2" font-style="italic" fill="#111" >ρ</text>
<path d="M248.2 359.80h3.5" stroke="#222" stroke-width="0.9"/>
<text x="255.60" y="363.00" font-size="9.2" fill="#111" >0.3</text>
<path d="M248.2 372.08h3.5" stroke="#222" stroke-width="0.9"/>
<text x="255.60" y="375.28" font-size="9.2" fill="#111" >0.2</text>
<path d="M248.2 384.36h3.5" stroke="#222" stroke-width="0.9"/>
<text x="255.60" y="387.56" font-size="9.2" fill="#111" >0.1</text>
<path d="M248.2 396.64h3.5" stroke="#222" stroke-width="0.9"/>
<text x="255.60" y="399.84" font-size="9.2" fill="#111" >0</text>
<path d="M248.2 408.92h3.5" stroke="#222" stroke-width="0.9"/>
<text x="255.60" y="412.12" font-size="9.2" fill="#111" >−0.1</text>
<path d="M248.2 421.20h3.5" stroke="#222" stroke-width="0.9"/>
<text x="255.60" y="424.40" font-size="9.2" fill="#111" >−0.2</text>
<path d="M248.2 433.48h3.5" stroke="#222" stroke-width="0.9"/>
<text x="255.60" y="436.68" font-size="9.2" fill="#111" >−0.3</text>
<circle cx="246.5" cy="464" r="1.9" fill="#c2c2c2"/>
<text x="255.50" y="467.00" font-size="9.2" fill="#111" ><tspan font-style="italic">P</tspan> &lt; 0.05</text>
<circle cx="246.5" cy="484" r="3.0" fill="#c2c2c2"/>
<text x="255.50" y="487.00" font-size="9.2" fill="#111" ><tspan font-style="italic">P</tspan> = 0.01</text>
<circle cx="246.5" cy="503.8" r="4.4" fill="#c2c2c2"/>
<text x="255.50" y="506.80" font-size="9.2" fill="#111" ><tspan font-style="italic">P</tspan> = 0.001</text>
<circle cx="246.5" cy="523.6" r="5.7" fill="#c2c2c2"/>
<text x="255.50" y="526.60" font-size="9.2" fill="#111" ><tspan font-style="italic">P</tspan> &lt; 0.0001</text>
</g>
<g id="panel-d">
<text x="325.20" y="273.20" font-size="10.5" font-weight="bold" fill="#000" >d</text>
<text x="383.90" y="277.50" font-size="9.2" text-anchor="middle" fill="#111" >Lung cancer</text>
<text x="493.00" y="277.50" font-size="9.2" text-anchor="middle" fill="#111" >Bladder cancer</text>
<path d="M335.2 282.2H432.6M444.3 282.2H542.4" stroke="#888" stroke-width="1.3"/>
<text x="358.70" y="292.80" font-size="9.2" text-anchor="middle" fill="#111" >LUAD</text>
<text x="411.00" y="292.80" font-size="9.2" text-anchor="middle" fill="#111" >LUSC</text>
<text x="467.00" y="292.80" font-size="9.2" text-anchor="middle" fill="#111" >Luminal</text>
<text x="521.00" y="292.80" font-size="9.2" text-anchor="middle" fill="#111" >Squamous</text>
<rect x="335.20" y="296.30" width="13.9" height="136.40" fill="#ff0000"/>
<rect x="335.20" y="432.70" width="13.9" height="6.80" fill="#ffa000"/>
<rect x="335.20" y="439.50" width="13.9" height="0.90" fill="#d8c070"/>
<rect x="335.20" y="440.40" width="13.9" height="40.90" fill="#fff82a"/>
<rect x="335.20" y="481.30" width="13.9" height="22.70" fill="#ff3c7c"/>
<rect x="335.20" y="504.00" width="13.9" height="1.00" fill="#bb0084"/>
<rect x="335.20" y="505.00" width="13.9" height="21.40" fill="#ff82e6"/>
<rect x="335.20" y="526.40" width="13.9" height="2.40" fill="#c0e8ff"/>
<rect x="335.20" y="528.80" width="13.9" height="3.40" fill="#40d4ff"/>
<rect x="335.20" y="532.20" width="13.9" height="12.00" fill="#0080ff"/>
<rect x="335.20" y="544.20" width="13.9" height="13.10" fill="#0000f0"/>
<path d="M335.20 432.70h13.9M335.20 439.50h13.9M335.20 440.40h13.9M335.20 481.30h13.9M335.20 504.00h13.9M335.20 505.00h13.9M335.20 526.40h13.9M335.20 528.80h13.9M335.20 532.20h13.9M335.20 544.20h13.9" stroke="#1a1a1a" stroke-width="0.7" fill="none"/>
<rect x="335.20" y="296.3" width="13.9" height="261.00" fill="none" stroke="#2a2a2a" stroke-width="0.85"/>
<rect x="350.40" y="296.30" width="13.9" height="144.40" fill="#ff0000"/>
<rect x="350.40" y="440.70" width="13.9" height="4.30" fill="#ffa000"/>
<rect x="350.40" y="445.00" width="13.9" height="1.00" fill="#d8c070"/>
<rect x="350.40" y="446.00" width="13.9" height="38.50" fill="#fff82a"/>
<rect x="350.40" y="484.50" width="13.9" height="23.90" fill="#ff3c7c"/>
<rect x="350.40" y="508.40" width="13.9" height="1.20" fill="#bb0084"/>
<rect x="350.40" y="509.60" width="13.9" height="23.60" fill="#ff82e6"/>
<rect x="350.40" y="533.20" width="13.9" height="3.20" fill="#c0e8ff"/>
<rect x="350.40" y="536.40" width="13.9" height="3.60" fill="#40d4ff"/>
<rect x="350.40" y="540.00" width="13.9" height="5.40" fill="#0080ff"/>
<rect x="350.40" y="545.40" width="13.9" height="11.90" fill="#0000f0"/>
<path d="M350.40 440.70h13.9M350.40 445.00h13.9M350.40 446.00h13.9M350.40 484.50h13.9M350.40 508.40h13.9M350.40 509.60h13.9M350.40 533.20h13.9M350.40 536.40h13.9M350.40 540.00h13.9M350.40 545.40h13.9" stroke="#1a1a1a" stroke-width="0.7" fill="none"/>
<rect x="350.40" y="296.3" width="13.9" height="261.00" fill="none" stroke="#2a2a2a" stroke-width="0.85"/>
<rect x="365.60" y="296.30" width="13.9" height="140.30" fill="#ff0000"/>
<rect x="365.60" y="436.60" width="13.9" height="5.30" fill="#ffa000"/>
<rect x="365.60" y="441.90" width="13.9" height="1.00" fill="#d8c070"/>
<rect x="365.60" y="442.90" width="13.9" height="41.60" fill="#fff82a"/>
<rect x="365.60" y="484.50" width="13.9" height="21.90" fill="#ff3c7c"/>
<rect x="365.60" y="506.40" width="13.9" height="1.20" fill="#bb0084"/>
<rect x="365.60" y="507.60" width="13.9" height="23.90" fill="#ff82e6"/>
<rect x="365.60" y="531.50" width="13.9" height="3.40" fill="#c0e8ff"/>
<rect x="365.60" y="534.90" width="13.9" height="3.60" fill="#40d4ff"/>
<rect x="365.60" y="538.50" width="13.9" height="5.70" fill="#0080ff"/>
<rect x="365.60" y="544.20" width="13.9" height="13.10" fill="#0000f0"/>
<path d="M365.60 436.60h13.9M365.60 441.90h13.9M365.60 442.90h13.9M365.60 484.50h13.9M365.60 506.40h13.9M365.60 507.60h13.9M365.60 531.50h13.9M365.60 534.90h13.9M365.60 538.50h13.9M365.60 544.20h13.9" stroke="#1a1a1a" stroke-width="0.7" fill="none"/>
<rect x="365.60" y="296.3" width="13.9" height="261.00" fill="none" stroke="#2a2a2a" stroke-width="0.85"/>
<rect x="388.00" y="296.30" width="13.9" height="183.30" fill="#ff0000"/>
<rect x="388.00" y="479.60" width="13.9" height="6.60" fill="#ffa000"/>
<rect x="388.00" y="486.20" width="13.9" height="2.00" fill="#d8c070"/>
<rect x="388.00" y="488.20" width="13.9" height="18.20" fill="#fff82a"/>
<rect x="388.00" y="506.40" width="13.9" height="12.90" fill="#ff3c7c"/>
<rect x="388.00" y="519.30" width="13.9" height="1.50" fill="#bb0084"/>
<rect x="388.00" y="520.80" width="13.9" height="15.60" fill="#ff82e6"/>
<rect x="388.00" y="536.40" width="13.9" height="2.90" fill="#c0e8ff"/>
<rect x="388.00" y="539.30" width="13.9" height="4.10" fill="#40d4ff"/>
<rect x="388.00" y="543.40" width="13.9" height="8.00" fill="#0080ff"/>
<rect x="388.00" y="551.40" width="13.9" height="5.90" fill="#0000f0"/>
<path d="M388.00 479.60h13.9M388.00 486.20h13.9M388.00 488.20h13.9M388.00 506.40h13.9M388.00 519.30h13.9M388.00 520.80h13.9M388.00 536.40h13.9M388.00 539.30h13.9M388.00 543.40h13.9M388.00 551.40h13.9" stroke="#1a1a1a" stroke-width="0.7" fill="none"/>
<rect x="388.00" y="296.3" width="13.9" height="261.00" fill="none" stroke="#2a2a2a" stroke-width="0.85"/>
<rect x="403.10" y="296.30" width="13.9" height="184.60" fill="#ff0000"/>
<rect x="403.10" y="480.90" width="13.9" height="6.00" fill="#ffa000"/>
<rect x="403.10" y="486.90" width="13.9" height="2.00" fill="#d8c070"/>
<rect x="403.10" y="488.90" width="13.9" height="17.50" fill="#fff82a"/>
<rect x="403.10" y="506.40" width="13.9" height="15.10" fill="#ff3c7c"/>
<rect x="403.10" y="521.50" width="13.9" height="1.20" fill="#bb0084"/>
<rect x="403.10" y="522.70" width="13.9" height="14.90" fill="#ff82e6"/>
<rect x="403.10" y="537.60" width="13.9" height="2.90" fill="#c0e8ff"/>
<rect x="403.10" y="540.50" width="13.9" height="3.60" fill="#40d4ff"/>
<rect x="403.10" y="544.10" width="13.9" height="6.10" fill="#0080ff"/>
<rect x="403.10" y="550.20" width="13.9" height="7.10" fill="#0000f0"/>
<path d="M403.10 480.90h13.9M403.10 486.90h13.9M403.10 488.90h13.9M403.10 506.40h13.9M403.10 521.50h13.9M403.10 522.70h13.9M403.10 537.60h13.9M403.10 540.50h13.9M403.10 544.10h13.9M403.10 550.20h13.9" stroke="#1a1a1a" stroke-width="0.7" fill="none"/>
<rect x="403.10" y="296.3" width="13.9" height="261.00" fill="none" stroke="#2a2a2a" stroke-width="0.85"/>
<rect x="418.20" y="296.30" width="13.9" height="186.50" fill="#ff0000"/>
<rect x="418.20" y="482.80" width="13.9" height="5.40" fill="#ffa000"/>
<rect x="418.20" y="488.20" width="13.9" height="1.40" fill="#d8c070"/>
<rect x="418.20" y="489.60" width="13.9" height="17.50" fill="#fff82a"/>
<rect x="418.20" y="507.10" width="13.9" height="14.70" fill="#ff3c7c"/>
<rect x="418.20" y="521.80" width="13.9" height="1.40" fill="#bb0084"/>
<rect x="418.20" y="523.20" width="13.9" height="14.40" fill="#ff82e6"/>
<rect x="418.20" y="537.60" width="13.9" height="3.10" fill="#c0e8ff"/>
<rect x="418.20" y="540.70" width="13.9" height="3.00" fill="#40d4ff"/>
<rect x="418.20" y="543.70" width="13.9" height="7.30" fill="#0080ff"/>
<rect x="418.20" y="551.00" width="13.9" height="6.30" fill="#0000f0"/>
<path d="M418.20 482.80h13.9M418.20 488.20h13.9M418.20 489.60h13.9M418.20 507.10h13.9M418.20 521.80h13.9M418.20 523.20h13.9M418.20 537.60h13.9M418.20 540.70h13.9M418.20 543.70h13.9M418.20 551.00h13.9" stroke="#1a1a1a" stroke-width="0.7" fill="none"/>
<rect x="418.20" y="296.3" width="13.9" height="261.00" fill="none" stroke="#2a2a2a" stroke-width="0.85"/>
<rect x="444.40" y="296.30" width="13.9" height="220.10" fill="#ff0000"/>
<rect x="444.40" y="516.40" width="13.9" height="3.20" fill="#ffa000"/>
<rect x="444.40" y="519.60" width="13.9" height="1.70" fill="#d8c070"/>
<rect x="444.40" y="521.30" width="13.9" height="4.20" fill="#fff82a"/>
<rect x="444.40" y="525.50" width="13.9" height="5.50" fill="#ff3c7c"/>
<rect x="444.40" y="531.00" width="13.9" height="0.90" fill="#bb0084"/>
<rect x="444.40" y="531.90" width="13.9" height="18.30" fill="#ff82e6"/>
<rect x="444.40" y="550.20" width="13.9" height="2.80" fill="#c0e8ff"/>
<rect x="444.40" y="553.00" width="13.9" height="1.10" fill="#40d4ff"/>
<rect x="444.40" y="554.10" width="13.9" height="1.90" fill="#0080ff"/>
<rect x="444.40" y="556.00" width="13.9" height="1.30" fill="#0000f0"/>
<path d="M444.40 516.40h13.9M444.40 519.60h13.9M444.40 521.30h13.9M444.40 525.50h13.9M444.40 531.00h13.9M444.40 531.90h13.9M444.40 550.20h13.9M444.40 553.00h13.9M444.40 554.10h13.9M444.40 556.00h13.9" stroke="#1a1a1a" stroke-width="0.7" fill="none"/>
<rect x="444.40" y="296.3" width="13.9" height="261.00" fill="none" stroke="#2a2a2a" stroke-width="0.85"/>
<rect x="459.70" y="296.30" width="13.9" height="217.40" fill="#ff0000"/>
<rect x="459.70" y="513.70" width="13.9" height="2.70" fill="#ffa000"/>
<rect x="459.70" y="516.40" width="13.9" height="1.40" fill="#d8c070"/>
<rect x="459.70" y="517.80" width="13.9" height="4.20" fill="#fff82a"/>
<rect x="459.70" y="522.00" width="13.9" height="5.80" fill="#ff3c7c"/>
<rect x="459.70" y="527.80" width="13.9" height="0.90" fill="#bb0084"/>
<rect x="459.70" y="528.70" width="13.9" height="19.40" fill="#ff82e6"/>
<rect x="459.70" y="548.10" width="13.9" height="3.20" fill="#c0e8ff"/>
<rect x="459.70" y="551.30" width="13.9" height="2.10" fill="#40d4ff"/>
<rect x="459.70" y="553.40" width="13.9" height="1.80" fill="#0080ff"/>
<rect x="459.70" y="555.20" width="13.9" height="2.10" fill="#0000f0"/>
<path d="M459.70 513.70h13.9M459.70 516.40h13.9M459.70 517.80h13.9M459.70 522.00h13.9M459.70 527.80h13.9M459.70 528.70h13.9M459.70 548.10h13.9M459.70 551.30h13.9M459.70 553.40h13.9M459.70 555.20h13.9" stroke="#1a1a1a" stroke-width="0.7" fill="none"/>
<rect x="459.70" y="296.3" width="13.9" height="261.00" fill="none" stroke="#2a2a2a" stroke-width="0.85"/>
<rect x="475.00" y="296.30" width="13.9" height="213.00" fill="#ff0000"/>
<rect x="475.00" y="509.30" width="13.9" height="3.00" fill="#ffa000"/>
<rect x="475.00" y="512.30" width="13.9" height="3.40" fill="#d8c070"/>
<rect x="475.00" y="515.70" width="13.9" height="5.60" fill="#fff82a"/>
<rect x="475.00" y="521.30" width="13.9" height="6.90" fill="#ff3c7c"/>
<rect x="475.00" y="528.20" width="13.9" height="0.70" fill="#bb0084"/>
<rect x="475.00" y="528.90" width="13.9" height="19.20" fill="#ff82e6"/>
<rect x="475.00" y="548.10" width="13.9" height="3.20" fill="#c0e8ff"/>
<rect x="475.00" y="551.30" width="13.9" height="1.70" fill="#40d4ff"/>
<rect x="475.00" y="553.00" width="13.9" height="1.80" fill="#0080ff"/>
<rect x="475.00" y="554.80" width="13.9" height="2.50" fill="#0000f0"/>
<path d="M475.00 509.30h13.9M475.00 512.30h13.9M475.00 515.70h13.9M475.00 521.30h13.9M475.00 528.20h13.9M475.00 528.90h13.9M475.00 548.10h13.9M475.00 551.30h13.9M475.00 553.00h13.9M475.00 554.80h13.9" stroke="#1a1a1a" stroke-width="0.7" fill="none"/>
<rect x="475.00" y="296.3" width="13.9" height="261.00" fill="none" stroke="#2a2a2a" stroke-width="0.85"/>
<rect x="498.20" y="296.30" width="13.9" height="183.10" fill="#ff0000"/>
<rect x="498.20" y="479.40" width="13.9" height="3.50" fill="#ffa000"/>
<rect x="498.20" y="482.90" width="13.9" height="0.90" fill="#d8c070"/>
<rect x="498.20" y="483.80" width="13.9" height="22.50" fill="#fff82a"/>
<rect x="498.20" y="506.30" width="13.9" height="11.30" fill="#ff3c7c"/>
<rect x="498.20" y="517.60" width="13.9" height="0.90" fill="#bb0084"/>
<rect x="498.20" y="518.50" width="13.9" height="19.90" fill="#ff82e6"/>
<rect x="498.20" y="538.40" width="13.9" height="3.60" fill="#c0e8ff"/>
<rect x="498.20" y="542.00" width="13.9" height="0.80" fill="#40d4ff"/>
<rect x="498.20" y="542.80" width="13.9" height="9.40" fill="#0080ff"/>
<rect x="498.20" y="552.20" width="13.9" height="5.10" fill="#0000f0"/>
<path d="M498.20 479.40h13.9M498.20 482.90h13.9M498.20 483.80h13.9M498.20 506.30h13.9M498.20 517.60h13.9M498.20 518.50h13.9M498.20 538.40h13.9M498.20 542.00h13.9M498.20 542.80h13.9M498.20 552.20h13.9" stroke="#1a1a1a" stroke-width="0.7" fill="none"/>
<rect x="498.20" y="296.3" width="13.9" height="261.00" fill="none" stroke="#2a2a2a" stroke-width="0.85"/>
<rect x="513.40" y="296.30" width="13.9" height="194.50" fill="#ff0000"/>
<rect x="513.40" y="490.80" width="13.9" height="2.70" fill="#ffa000"/>
<rect x="513.40" y="493.50" width="13.9" height="1.00" fill="#d8c070"/>
<rect x="513.40" y="494.50" width="13.9" height="17.00" fill="#fff82a"/>
<rect x="513.40" y="511.50" width="13.9" height="10.50" fill="#ff3c7c"/>
<rect x="513.40" y="522.00" width="13.9" height="2.30" fill="#bb0084"/>
<rect x="513.40" y="524.30" width="13.9" height="18.00" fill="#ff82e6"/>
<rect x="513.40" y="542.30" width="13.9" height="2.80" fill="#c0e8ff"/>
<rect x="513.40" y="545.10" width="13.9" height="2.50" fill="#40d4ff"/>
<rect x="513.40" y="547.60" width="13.9" height="4.90" fill="#0080ff"/>
<rect x="513.40" y="552.50" width="13.9" height="4.80" fill="#0000f0"/>
<path d="M513.40 490.80h13.9M513.40 493.50h13.9M513.40 494.50h13.9M513.40 511.50h13.9M513.40 522.00h13.9M513.40 524.30h13.9M513.40 542.30h13.9M513.40 545.10h13.9M513.40 547.60h13.9M513.40 552.50h13.9" stroke="#1a1a1a" stroke-width="0.7" fill="none"/>
<rect x="513.40" y="296.3" width="13.9" height="261.00" fill="none" stroke="#2a2a2a" stroke-width="0.85"/>
<rect x="528.60" y="296.30" width="13.9" height="190.50" fill="#ff0000"/>
<rect x="528.60" y="486.80" width="13.9" height="2.80" fill="#ffa000"/>
<rect x="528.60" y="489.60" width="13.9" height="1.20" fill="#d8c070"/>
<rect x="528.60" y="490.80" width="13.9" height="17.70" fill="#fff82a"/>
<rect x="528.60" y="508.50" width="13.9" height="12.30" fill="#ff3c7c"/>
<rect x="528.60" y="520.80" width="13.9" height="0.90" fill="#bb0084"/>
<rect x="528.60" y="521.70" width="13.9" height="19.70" fill="#ff82e6"/>
<rect x="528.60" y="541.40" width="13.9" height="2.80" fill="#c0e8ff"/>
<rect x="528.60" y="544.20" width="13.9" height="2.50" fill="#40d4ff"/>
<rect x="528.60" y="546.70" width="13.9" height="6.30" fill="#0080ff"/>
<rect x="528.60" y="553.00" width="13.9" height="4.30" fill="#0000f0"/>
<path d="M528.60 486.80h13.9M528.60 489.60h13.9M528.60 490.80h13.9M528.60 508.50h13.9M528.60 520.80h13.9M528.60 521.70h13.9M528.60 541.40h13.9M528.60 544.20h13.9M528.60 546.70h13.9M528.60 553.00h13.9" stroke="#1a1a1a" stroke-width="0.7" fill="none"/>
<rect x="528.60" y="296.3" width="13.9" height="261.00" fill="none" stroke="#2a2a2a" stroke-width="0.85"/>
<text x="344.75" y="567.00" font-size="9.2" text-anchor="end" transform="rotate(-45 344.75 567.00)" fill="#111" >Low</text>
<path d="M342.15 557.3v1.8" stroke="#222" stroke-width="0.7"/>
<text x="359.95" y="567.00" font-size="9.2" text-anchor="end" transform="rotate(-45 359.95 567.00)" fill="#111" >Mid</text>
<path d="M357.35 557.3v1.8" stroke="#222" stroke-width="0.7"/>
<text x="375.15" y="567.00" font-size="9.2" text-anchor="end" transform="rotate(-45 375.15 567.00)" fill="#111" >High</text>
<path d="M372.55 557.3v1.8" stroke="#222" stroke-width="0.7"/>
<text x="397.55" y="567.00" font-size="9.2" text-anchor="end" transform="rotate(-45 397.55 567.00)" fill="#111" >Low</text>
<path d="M394.95 557.3v1.8" stroke="#222" stroke-width="0.7"/>
<text x="412.65" y="567.00" font-size="9.2" text-anchor="end" transform="rotate(-45 412.65 567.00)" fill="#111" >Mid</text>
<path d="M410.05 557.3v1.8" stroke="#222" stroke-width="0.7"/>
<text x="427.75" y="567.00" font-size="9.2" text-anchor="end" transform="rotate(-45 427.75 567.00)" fill="#111" >High</text>
<path d="M425.15 557.3v1.8" stroke="#222" stroke-width="0.7"/>
<text x="453.95" y="567.00" font-size="9.2" text-anchor="end" transform="rotate(-45 453.95 567.00)" fill="#111" >Low</text>
<path d="M451.35 557.3v1.8" stroke="#222" stroke-width="0.7"/>
<text x="469.25" y="567.00" font-size="9.2" text-anchor="end" transform="rotate(-45 469.25 567.00)" fill="#111" >Mid</text>
<path d="M466.65 557.3v1.8" stroke="#222" stroke-width="0.7"/>
<text x="484.55" y="567.00" font-size="9.2" text-anchor="end" transform="rotate(-45 484.55 567.00)" fill="#111" >High</text>
<path d="M481.95 557.3v1.8" stroke="#222" stroke-width="0.7"/>
<text x="507.75" y="567.00" font-size="9.2" text-anchor="end" transform="rotate(-45 507.75 567.00)" fill="#111" >Low</text>
<path d="M505.15 557.3v1.8" stroke="#222" stroke-width="0.7"/>
<text x="522.95" y="567.00" font-size="9.2" text-anchor="end" transform="rotate(-45 522.95 567.00)" fill="#111" >Mid</text>
<path d="M520.35 557.3v1.8" stroke="#222" stroke-width="0.7"/>
<text x="538.15" y="567.00" font-size="9.2" text-anchor="end" transform="rotate(-45 538.15 567.00)" fill="#111" >High</text>
<path d="M535.55 557.3v1.8" stroke="#222" stroke-width="0.7"/>
<text x="438.60" y="593.80" font-size="9.2" text-anchor="middle" fill="#111" ><tspan font-style="italic">GDF15</tspan> expression</text>
<rect x="552.9" y="312.60" width="9.3" height="9" fill="#ff0000" stroke="#222" stroke-width="0.6"/>
<text x="566.40" y="320.40" font-size="9.2" fill="#111" >Other cells</text>
<rect x="552.9" y="327.33" width="9.3" height="9" fill="#ffa000" stroke="#222" stroke-width="0.6"/>
<text x="566.40" y="335.13" font-size="9.2" fill="#111" >B cells</text>
<rect x="552.9" y="342.06" width="9.3" height="9" fill="#d8c070" stroke="#222" stroke-width="0.6"/>
<text x="566.40" y="349.86" font-size="9.2" fill="#111" >Dendritic cells</text>
<rect x="552.9" y="356.79" width="9.3" height="9" fill="#fff82a" stroke="#222" stroke-width="0.6"/>
<text x="566.40" y="364.59" font-size="9.2" fill="#111" >Macrophages M1</text>
<rect x="552.9" y="371.52" width="9.3" height="9" fill="#ff3c7c" stroke="#222" stroke-width="0.6"/>
<text x="566.40" y="379.32" font-size="9.2" fill="#111" >Macrophages M2</text>
<rect x="552.9" y="386.25" width="9.3" height="9" fill="#bb0084" stroke="#222" stroke-width="0.6"/>
<text x="566.40" y="394.05" font-size="9.2" fill="#111" >Monocytes</text>
<rect x="552.9" y="400.98" width="9.3" height="9" fill="#ff82e6" stroke="#222" stroke-width="0.6"/>
<text x="566.40" y="408.78" font-size="9.2" fill="#111" >Neutrophils</text>
<rect x="552.9" y="415.71" width="9.3" height="9" fill="#c0e8ff" stroke="#222" stroke-width="0.6"/>
<text x="566.40" y="423.51" font-size="9.2" fill="#111" >NK cells</text>
<rect x="552.9" y="430.44" width="9.3" height="9" fill="#40d4ff" stroke="#222" stroke-width="0.6"/>
<text x="566.40" y="438.24" font-size="9.2" fill="#111" >CD4<tspan font-size="6" dy="-3">+</tspan><tspan dy="3"> T cells (non-regulatory)</tspan></text>
<rect x="552.9" y="445.17" width="9.3" height="9" fill="#0080ff" stroke="#222" stroke-width="0.6"/>
<text x="566.40" y="452.97" font-size="9.2" fill="#111" >CD8<tspan font-size="6" dy="-3">+</tspan><tspan dy="3"> T cells</tspan></text>
<rect x="552.9" y="459.90" width="9.3" height="9" fill="#0000f0" stroke="#222" stroke-width="0.6"/>
<text x="566.40" y="467.70" font-size="9.2" fill="#111" >Regulatory T cells</text>
</g>
</svg>
</body></html>
